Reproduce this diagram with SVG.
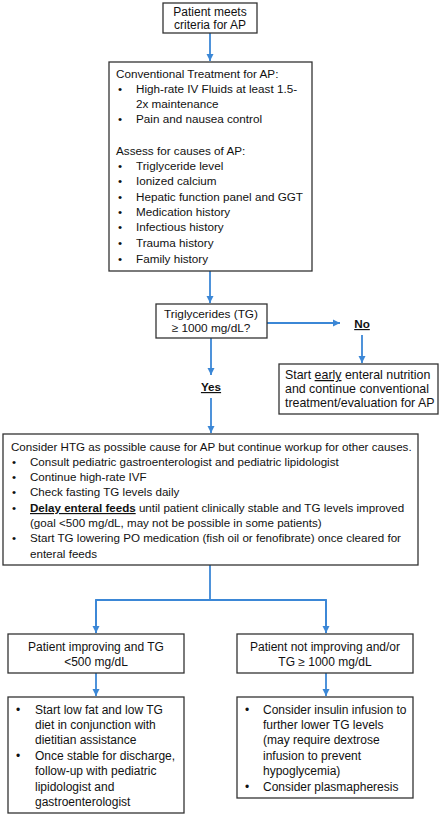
<svg xmlns="http://www.w3.org/2000/svg" width="447" height="817" viewBox="0 0 447 817">
<style>
text{font-family:"Liberation Sans",Arial,sans-serif;font-size:11.7px;fill:#111}
.c{text-anchor:middle}
.box{fill:#fff;stroke:#333;stroke-width:1.3}
.ln{stroke:#3b87d6;stroke-width:1.8;fill:none}
.u{text-decoration:underline}
.b{font-weight:bold}
#start text{font-size:12px}
#tg text{font-size:11.8px}
#early text{font-size:12.4px}
#htg text{font-size:11.6px}
#improving text,#notimproving text,#diet text,#insulin text{font-size:12px}
</style>
<defs>
<marker id="ah" markerUnits="userSpaceOnUse" markerWidth="8" markerHeight="8" refX="7" refY="4" orient="auto">
<path d="M0,0.5 L7,4 L0,7.5 Z" fill="#3b87d6"/>
</marker>
</defs>
<rect width="447" height="817" fill="#fff"/>
<g id="connectors">
<line class="ln" x1="210" y1="33" x2="210" y2="61" marker-end="url(#ah)"/>
<line class="ln" x1="210" y1="271" x2="210" y2="303" marker-end="url(#ah)"/>
<line class="ln" x1="267" y1="323" x2="340" y2="323" marker-end="url(#ah)"/>
<line class="ln" x1="362" y1="335" x2="362" y2="363" marker-end="url(#ah)"/>
<line class="ln" x1="211" y1="338" x2="211" y2="375" marker-end="url(#ah)"/>
<line class="ln" x1="211" y1="398" x2="211" y2="433" marker-end="url(#ah)"/>
<polyline class="ln" points="210,565 210,600"/>
<polyline class="ln" points="96,633 96,600 326,600 326,633"/>
<line class="ln" x1="96" y1="600" x2="96" y2="633" marker-end="url(#ah)"/>
<line class="ln" x1="326" y1="600" x2="326" y2="633" marker-end="url(#ah)"/>
<line class="ln" x1="96" y1="673" x2="96" y2="696" marker-end="url(#ah)"/>
<line class="ln" x1="326" y1="673" x2="326" y2="696" marker-end="url(#ah)"/>
</g>
<g id="start">
<rect class="box" x="163" y="3" width="94" height="30"/>
<text class="c" x="210" y="16">Patient meets</text>
<text class="c" x="210" y="29">criteria for AP</text>
</g>
<g id="conventional">
<rect class="box" x="109" y="62" width="203" height="209"/>
<text x="116" y="78">Conventional Treatment for AP:</text>
<text x="118" y="93">•</text><text x="136" y="93">High-rate IV Fluids at least 1.5-</text>
<text x="136" y="108">2x maintenance</text>
<text x="118" y="123">•</text><text x="136" y="123">Pain and nausea control</text>
<text x="116" y="155">Assess for causes of AP:</text>
<text x="118" y="170">•</text><text x="136" y="170">Triglyceride level</text>
<text x="118" y="185">•</text><text x="136" y="185">Ionized calcium</text>
<text x="118" y="201">•</text><text x="136" y="201">Hepatic function panel and GGT</text>
<text x="118" y="216">•</text><text x="136" y="216">Medication history</text>
<text x="118" y="231">•</text><text x="136" y="231">Infectious history</text>
<text x="118" y="247">•</text><text x="136" y="247">Trauma history</text>
<text x="118" y="263">•</text><text x="136" y="263">Family history</text>
</g>
<g id="tg">
<rect class="box" x="156" y="304" width="111" height="34"/>
<text class="c" x="211" y="318">Triglycerides (TG)</text>
<text class="c" x="211" y="332">≥ 1000 mg/dL?</text>
</g>
<g id="no">
<text class="c b u" x="362" y="328">No</text>
</g>
<g id="early">
<rect class="box" x="279" y="364" width="159" height="50"/>
<text x="285" y="379">Start <tspan class="u">early</tspan> enteral nutrition</text>
<text x="285" y="393">and continue conventional</text>
<text x="285" y="407">treatment/evaluation for AP</text>
</g>
<g id="yes">
<text class="c b u" x="211" y="391">Yes</text>
</g>
<g id="htg">
<rect class="box" x="3" y="434" width="415" height="131"/>
<text x="11" y="451">Consider HTG as possible cause for AP but continue workup for other causes.</text>
<text x="12" y="466">•</text><text x="30" y="466">Consult pediatric gastroenterologist and pediatric lipidologist</text>
<text x="12" y="481">•</text><text x="30" y="481">Continue high-rate IVF</text>
<text x="12" y="496">•</text><text x="30" y="496">Check fasting TG levels daily</text>
<text x="12" y="512">•</text><text x="30" y="512"><tspan class="b u">Delay enteral feeds</tspan> until patient clinically stable and TG levels improved</text>
<text x="30" y="527">(goal &lt;500 mg/dL, may not be possible in some patients)</text>
<text x="12" y="542">•</text><text x="30" y="542">Start TG lowering PO medication (fish oil or fenofibrate) once cleared for</text>
<text x="30" y="558">enteral feeds</text>
</g>
<g id="improving">
<rect class="box" x="8" y="634" width="176" height="39"/>
<text class="c" x="96" y="651">Patient improving and TG</text>
<text class="c" x="96" y="666">&lt;500 mg/dL</text>
</g>
<g id="notimproving">
<rect class="box" x="237" y="634" width="176" height="39"/>
<text class="c" x="325" y="651">Patient not improving and/or</text>
<text class="c" x="325" y="666">TG ≥ 1000 mg/dL</text>
</g>
<g id="diet">
<rect class="box" x="8" y="697" width="176" height="116"/>
<text x="16" y="714">•</text><text x="35" y="714">Start low fat and low TG</text>
<text x="35" y="729">diet in conjunction with</text>
<text x="35" y="744">dietitian assistance</text>
<text x="16" y="760">•</text><text x="35" y="760">Once stable for discharge,</text>
<text x="35" y="775">follow-up with pediatric</text>
<text x="35" y="791">lipidologist and</text>
<text x="35" y="806">gastroenterologist</text>
</g>
<g id="insulin">
<rect class="box" x="237" y="697" width="176" height="101"/>
<text x="245" y="714">•</text><text x="263" y="714">Consider insulin infusion to</text>
<text x="263" y="729">further lower TG levels</text>
<text x="263" y="744">(may require dextrose</text>
<text x="263" y="760">infusion to prevent</text>
<text x="263" y="775">hypoglycemia)</text>
<text x="245" y="791">•</text><text x="263" y="791">Consider plasmapheresis</text>
</g>
</svg>
